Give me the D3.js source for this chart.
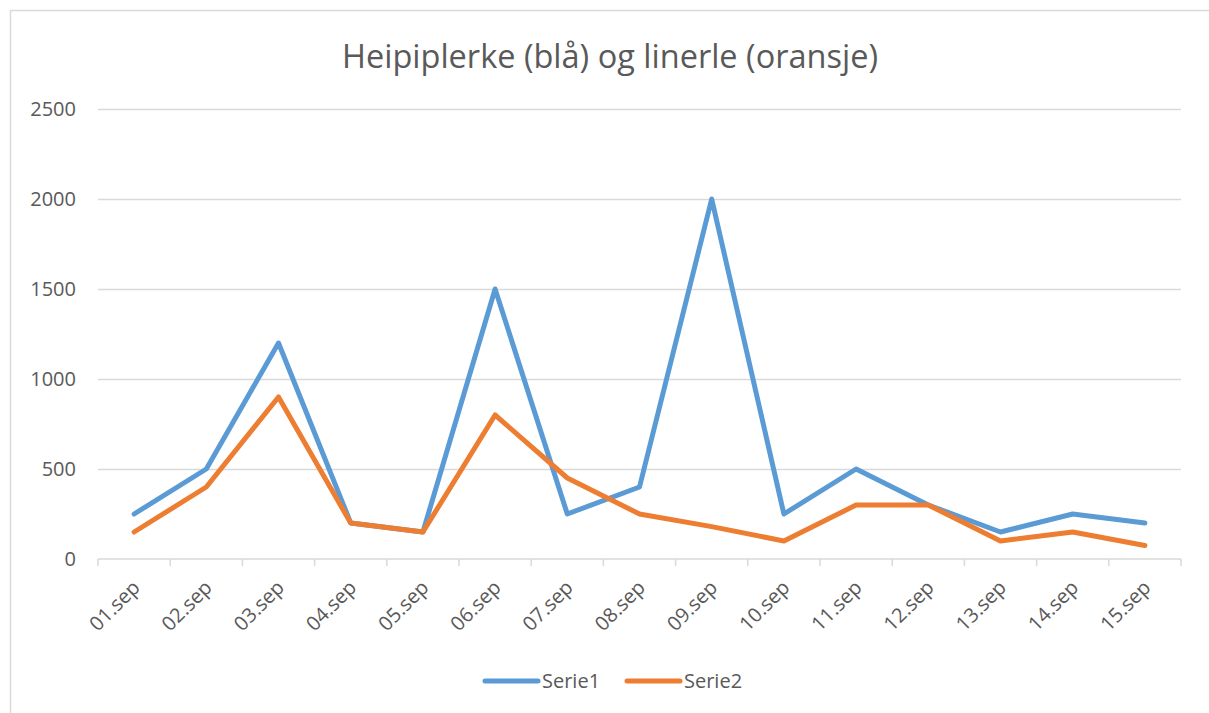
<!DOCTYPE html>
<html>
<head>
<meta charset="UTF-8">
<script src="https://d3js.org/d3.v7.min.js"></script>
<style>
  body { margin: 0; background: #fff; }
  text { font-family: "Open Sans", "Noto Sans", sans-serif; fill: #595959; }
</style>
</head>
<body>
<svg width="1209" height="713"></svg>
<script>

// data
var days = ["01.sep", "02.sep", "03.sep", "04.sep", "05.sep", "06.sep", "07.sep", "08.sep",
            "09.sep", "10.sep", "11.sep", "12.sep", "13.sep", "14.sep", "15.sep"];
var serie1 = [250, 500, 1200, 200, 150, 1500, 250, 400, 2000, 250, 500, 300, 150, 250, 200];
var serie2 = [150, 400, 900, 200, 150, 800, 450, 250, 180, 100, 300, 300, 100, 150, 75];
var yTicks = [0, 500, 1000, 1500, 2000, 2500];
var seriesNames = ["Serie1", "Serie2"];
var colors = ["#5b9bd5", "#ed7d31"];

var svg = d3.select("svg"),
    margin = {top: 109, right: 28, bottom: 154, left: 98},
    width = +svg.attr("width") - margin.left - margin.right,
    height = +svg.attr("height") - margin.top - margin.bottom;

// chart frame (runs off the right and bottom edges)
svg.append("rect")
    .attr("x", 10.5).attr("y", 10.5)
    .attr("width", 1220).attr("height", 720)
    .attr("fill", "none")
    .attr("stroke", "#d9d9d9")
    .attr("stroke-width", 1.5);

svg.append("text")
    .attr("x", 610).attr("y", 68)
    .attr("text-anchor", "middle")
    .attr("font-size", 32.5)
    .text("Heipiplerke (blå) og linerle (oransje)");

var g = svg.append("g").attr("transform", "translate(" + margin.left + "," + margin.top + ")");

var x = d3.scaleBand().domain(days).range([0, width]);
var y = d3.scaleLinear().domain([0, 2500]).range([height, 0]);

// gridlines + y labels
g.append("g")
    .call(d3.axisLeft(y).tickValues(yTicks).tickFormat(d3.format("d")).tickSize(-width).tickPadding(22))
    .call(function(a) {
      a.select(".domain").remove();
      a.selectAll(".tick line").attr("stroke", "#d9d9d9").attr("stroke-width", 1.5)
        .attr("stroke-opacity", function(d) { return d === 0 ? 0 : 1; });
      a.selectAll(".tick text").attr("font-size", 20).attr("fill", "#595959");
    });

// x axis line and ticks at category boundaries
var xa = g.append("g").attr("transform", "translate(0," + height + ")");
xa.append("line")
    .attr("x1", 0).attr("x2", width)
    .attr("stroke", "#d9d9d9").attr("stroke-width", 1.5);
xa.selectAll(".bound")
    .data(d3.range(days.length + 1))
    .join("line")
    .attr("x1", function(i) { return i * x.step(); })
    .attr("x2", function(i) { return i * x.step(); })
    .attr("y1", 0).attr("y2", 7)
    .attr("stroke", "#d9d9d9").attr("stroke-width", 1.5);
xa.selectAll(".lbl")
    .data(days)
    .join("text")
    .attr("text-anchor", "end")
    .attr("font-size", 20)
    .attr("transform", function(d) {
      return "translate(" + (x(d) + x.bandwidth() / 2 + 2) + ",25) rotate(-45)";
    })
    .attr("dy", "0.35em")
    .text(function(d) { return d; });

// lines
var line = d3.line()
    .x(function(d, i) { return x(days[i]) + x.bandwidth() / 2; })
    .y(function(d) { return y(d); });

[serie1, serie2].forEach(function(s, k) {
  g.append("path")
      .datum(s)
      .attr("fill", "none")
      .attr("stroke", colors[k])
      .attr("stroke-width", 5)
      .attr("stroke-linejoin", "round")
      .attr("stroke-linecap", "round")
      .attr("d", line);
});

// legend
var legend = svg.append("g").attr("transform", "translate(485,681)");
var item = legend.selectAll("g")
    .data(seriesNames)
    .join("g")
    .attr("transform", function(d, i) { return "translate(" + (i * 142) + ",0)"; });
item.append("line")
    .attr("x1", 0).attr("x2", 53)
    .attr("stroke", function(d, i) { return colors[i]; })
    .attr("stroke-width", 5)
    .attr("stroke-linecap", "round");
item.append("text")
    .attr("x", 57)
    .attr("dy", "0.35em")
    .attr("font-size", 20)
    .text(function(d) { return d; });

</script>
</body>
</html>
